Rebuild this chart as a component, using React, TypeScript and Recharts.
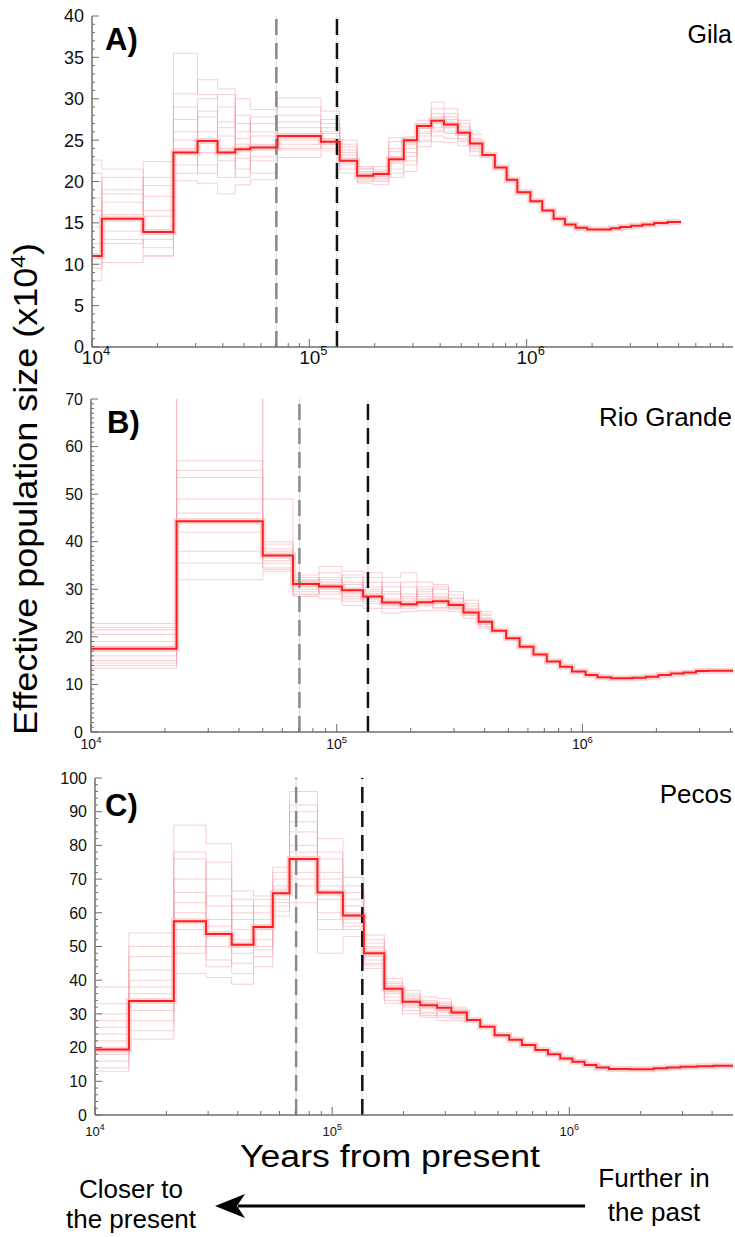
import { LineChart, Line, XAxis, YAxis, ReferenceLine } from 'recharts';

const FONT = '"Liberation Sans", Arial, Helvetica, sans-serif';
const AXIS = '#6e6e6e';
const MAIN = '#ff1e1e';
const BOOT = '#f4a0a7';

// shared
const logTicks = [
  1e4, 2e4, 3e4, 4e4, 5e4, 6e4, 7e4, 8e4, 9e4,
  1e5, 2e5, 3e5, 4e5, 5e5, 6e5, 7e5, 8e5, 9e5,
  1e6, 2e6, 3e6, 4e6, 5e6, 6e6, 7e6, 8e6, 9e6,
];
const recentSplit = 70500; // grey dashed
const olderSplit = 134000; // black dashed

// A) Gila
const gilaBreaks = [
  1e4, 1.11e4, 1.72e4, 2.37e4, 3.06e4, 3.78e4, 4.56e4, 5.35e4, 7.14e4, 1.13e5,
  1.38e5, 1.66e5, 1.97e5, 2.32e5, 2.72e5, 3.13e5, 3.64e5, 4.16e5, 4.82e5, 5.48e5,
  6.25e5, 7.14e5, 8.09e5, 9.06e5, 1.04e6, 1.18e6, 1.33e6, 1.5e6, 1.68e6, 1.9e6,
  2.44e6, 2.69e6, 3.02e6, 3.41e6, 3.86e6, 4.45e6, 5.13e6,
];
const gilaNe = [
  11, 15.5, 13.9, 23.5, 24.9, 23.5, 23.9, 24.1, 25.5, 24.8,
  22.5, 20.7, 20.9, 22.7, 25.0, 26.7, 27.35, 26.9, 25.9, 24.6,
  23.2, 21.7, 20.2, 18.7, 17.6, 16.5, 15.5, 14.8, 14.4, 14.2,
  14.35, 14.5, 14.65, 14.8, 15.0, 15.1,
];
const gilaBoot = [
  [22.6, 21.5, 18.2, 35.5, 30.5, 27.2, 30.0, 28.7, 30.1, 28.5, 25.0, 21.6, 21.2, 24.8, 25.4, 27.4, 29.6, 28.8, 27.4, 25.7],
  [8.0, 10.2, 11.0, 20.1, 19.8, 18.5, 19.6, 20.2, 22.9, 23.7, 21.0, 19.8, 19.6, 20.5, 21.2, 24.2, 24.8, 24.7, 24.3, 23.1],
  [14.5, 19.0, 22.4, 30.6, 32.3, 31.2, 26.0, 27.0, 28.0, 27.0, 23.8, 21.2, 21.8, 23.6, 25.0, 26.4, 28.2, 27.8, 26.6, 25.0],
  [18.0, 12.5, 13.0, 27.5, 22.0, 20.5, 22.8, 21.0, 24.0, 25.8, 22.0, 20.2, 20.2, 21.5, 23.0, 25.0, 26.0, 25.8, 25.2, 24.0],
  [10.0, 17.5, 15.8, 22.0, 27.8, 25.5, 25.2, 25.5, 26.5, 24.5, 24.2, 20.8, 20.6, 22.2, 24.0, 26.0, 27.0, 26.5, 25.6, 24.5],
  [20.0, 14.0, 19.5, 25.0, 21.0, 29.0, 21.5, 23.0, 23.8, 26.5, 22.8, 21.0, 21.0, 25.3, 22.5, 25.5, 27.8, 27.0, 26.0, 24.7],
  [12.5, 20.5, 11.0, 29.0, 26.0, 22.5, 28.0, 26.0, 27.2, 24.0, 23.2, 20.5, 20.0, 23.0, 24.5, 26.8, 25.5, 25.2, 24.8, 23.6],
  [16.5, 16.0, 20.5, 24.0, 28.5, 24.0, 24.5, 22.5, 25.0, 27.5, 24.5, 21.5, 21.4, 24.0, 23.5, 25.8, 26.5, 27.5, 26.2, 25.2],
  [9.5, 13.0, 12.0, 26.0, 23.5, 26.5, 27.0, 24.5, 29.0, 25.2, 21.5, 20.0, 20.4, 21.0, 22.0, 24.8, 28.8, 26.0, 25.0, 24.2],
  [21.0, 18.5, 16.5, 21.0, 30.0, 30.5, 20.5, 27.8, 24.5, 26.0, 23.5, 21.8, 20.8, 22.5, 24.8, 27.0, 26.2, 28.2, 27.0, 23.8],
];

// B) Rio Grande
const rioBreaks = [
  1e4, 2.23e4, 5.0e4, 6.64e4, 8.47e4, 1.05e5, 1.28e5, 1.53e5, 1.82e5, 2.12e5,
  2.46e5, 2.85e5, 3.28e5, 3.78e5, 4.29e5, 4.89e5, 5.55e5, 6.32e5, 7.16e5, 8.11e5,
  9.07e5, 1.03e6, 1.15e6, 1.31e6, 1.6e6, 1.81e6, 2.04e6, 2.29e6, 2.58e6, 2.9e6,
  3.23e6, 4.2e6,
];
const rioNe = [
  17.5, 44.3, 37.1, 31.1, 30.6, 29.8, 28.5, 27.2, 26.85, 27.25,
  27.5, 26.7, 25.1, 23.2, 21.3, 19.7, 17.9, 16.3, 14.8, 13.7,
  12.7, 12.0, 11.5, 11.3, 11.4, 11.6, 12.0, 12.3, 12.5, 12.8, 12.9,
];
const rioBoot = [
  [22.8, 75, 49, 33.0, 34.8, 33.8, 33.5, 32.5, 33.5, 31.5, 31.0, 29.5, 27.7, 25.3],
  [13.4, 32.0, 33.8, 28.5, 28.0, 26.6, 26.0, 25.0, 25.3, 25.5, 25.5, 25.3, 23.9, 21.8],
  [20.5, 57.0, 40.0, 32.0, 32.5, 31.5, 30.5, 29.0, 28.5, 29.5, 30.0, 28.2, 26.5, 24.5],
  [15.0, 49.0, 35.5, 29.5, 31.0, 28.0, 27.0, 26.0, 27.5, 26.5, 27.0, 26.0, 24.8, 22.6],
  [19.0, 38.0, 38.5, 30.5, 29.0, 32.5, 29.5, 28.0, 30.5, 28.5, 28.2, 27.5, 25.8, 23.8],
  [16.0, 53.5, 36.0, 31.8, 33.5, 30.0, 31.5, 27.5, 26.0, 30.5, 29.0, 27.0, 25.2, 23.0],
  [21.5, 42.0, 34.5, 29.0, 30.0, 29.0, 28.0, 30.5, 29.0, 27.5, 26.2, 25.8, 24.5, 22.2],
  [14.5, 72, 39.5, 30.0, 31.5, 27.5, 32.5, 26.5, 27.0, 28.0, 27.8, 28.8, 26.0, 24.0],
  [18.0, 46.0, 37.5, 32.5, 30.2, 31.0, 27.5, 29.5, 28.0, 29.0, 28.5, 26.5, 25.5, 23.5],
  [22.0, 35.5, 34.2, 28.8, 32.0, 28.5, 30.0, 26.8, 31.5, 27.0, 30.5, 28.0, 27.0, 24.8],
  [14.0, 55.0, 38.0, 31.5, 29.5, 33.0, 29.0, 31.5, 26.5, 30.0, 26.0, 26.8, 25.0, 22.8],
];

// C) Pecos
const pecosBreaks = [
  1e4, 1.39e4, 2.15e4, 2.94e4, 3.77e4, 4.66e4, 5.62e4, 6.61e4, 8.67e4, 1.11e5,
  1.36e5, 1.66e5, 1.98e5, 2.35e5, 2.77e5, 3.18e5, 3.7e5, 4.21e5, 4.84e5, 5.58e5,
  6.31e5, 7.19e5, 8.13e5, 9.16e5, 1.03e6, 1.16e6, 1.3e6, 1.47e6, 1.81e6, 2.27e6,
  2.58e6, 2.94e6, 3.46e6, 4.06e6, 5.0e6,
];
const pecosNe = [
  19.4, 33.8, 57.5, 53.7, 50.5, 55.8, 65.8, 76.0, 66.0, 59.2,
  48.0, 37.5, 33.6, 32.6, 31.8, 30.4, 28.2, 26.2, 23.7, 22.3,
  20.8, 19.3, 18.0, 16.8, 15.8, 14.8, 14.1, 13.65, 13.55, 13.85,
  14.1, 14.3, 14.5, 14.6,
];
const pecosBoot = [
  [38, 54, 86, 80.5, 66.5, 65, 73.5, 96, 82, 70.5, 53.4, 40.5, 37, 35, 34.5, 32],
  [13, 22.5, 42, 40.8, 38.8, 44, 59, 63, 48, 53, 43.5, 33.2, 30, 29, 28, 28],
  [28, 47, 76, 70, 60, 62, 70, 90, 76, 66, 51, 39, 35.5, 34, 33, 31],
  [16, 28, 50, 46, 45, 49, 62, 68, 58, 56, 46, 35, 32, 30.5, 29.5, 29],
  [33, 40, 66, 58, 55, 58, 67, 84, 70, 62, 49.5, 38.5, 34.5, 33, 32.5, 30.8],
  [22, 25, 78, 50, 62, 52, 64, 72, 64, 58, 45, 36, 31, 31.5, 30.5, 29.5],
  [24, 43, 55, 65, 48, 60, 68, 80, 55, 68, 50, 37, 33.5, 32, 31, 30],
  [18, 36, 63, 75, 42, 47, 60.5, 87, 72, 55, 47, 34, 36, 29.5, 33.5, 31.5],
  [30, 31, 70, 62, 52, 64, 72, 92, 60, 64, 52, 38, 34, 33.5, 31.5, 30.2],
  [14, 50, 48, 56, 64, 55, 66, 78, 78, 60, 44.5, 36.5, 32.5, 30, 29, 28.5],
  [26, 38, 60, 44, 58, 50, 63, 70, 68, 57, 48.5, 39.5, 35, 32.5, 32, 31],
];

function range(max: number, step: number) {
  const out: number[] = [];
  for (let v = 0; v <= max + 1e-9; v += step) out.push(v);
  return out;
}

function stepPoints(breaks: number[], vals: number[]) {
  const pts = vals.map((v, i) => ({ x: breaks[i], y: v }));
  pts.push({ x: breaks[vals.length], y: vals[vals.length - 1] });
  return pts;
}

const isDecade = (v: number) => Math.abs(Math.log10(v) - Math.round(Math.log10(v))) < 1e-6;

const bottomTick = (fs: number, dy: number, dx: number) => (p: any) => {
  const v = p.payload.value;
  const major = isDecade(v);
  return (
    <g>
      <line x1={p.x} x2={p.x} y1={p.y} y2={p.y - (major ? 8 : 4)} stroke={AXIS} />
      {major && (
        <text x={p.x + dx} y={p.y + dy} textAnchor="middle" fontFamily={FONT} fontSize={fs} fill="#111">
          10
          <tspan dy={-fs * 0.45} fontSize={fs * 0.68}>{Math.round(Math.log10(v))}</tspan>
        </text>
      )}
    </g>
  );
};

const topTick = (p: any) => (
  <line x1={p.x} x2={p.x} y1={p.y} y2={p.y + (isDecade(p.payload.value) ? 8 : 4)} stroke={AXIS} />
);

const leftTick = (fs: number, labelStep: number) => (p: any) => {
  const v = p.payload.value;
  const major = Math.abs(v / labelStep - Math.round(v / labelStep)) < 1e-6;
  return (
    <g>
      <line x1={p.x} x2={p.x + (major ? 7 : 3)} y1={p.y} y2={p.y} stroke={AXIS} />
      {major && (
        <text x={p.x - 8} y={p.y + fs * 0.36} textAnchor="end" fontFamily={FONT} fontSize={fs} fill="#111">
          {v}
        </text>
      )}
    </g>
  );
};

type PanelProps = {
  top: number;
  height: number;
  marginTop: number;
  axisH: number;
  yAxisW: number;
  xMax: number;
  yMax: number;
  yStep: number;
  yLabelStep: number;
  yFont: number;
  xFont: number;
  xLabelDy: number;
  xLabelDx: number;
  breaks: number[];
  ne: number[];
  boot: number[][];
};

function Panel(props: PanelProps) {
  const ticks = logTicks.filter((t) => t <= props.xMax);
  const mainPts = stepPoints(props.breaks, props.ne);
  return (
    <div style={{ position: 'absolute', left: 0, top: props.top }}>
      <LineChart
        width={735}
        height={props.height}
        margin={{ top: props.marginTop, right: 2, bottom: 0, left: 0 }}
      >
        <XAxis
          xAxisId="b"
          type="number"
          dataKey="x"
          scale="log"
          domain={[1e4, props.xMax]}
          allowDataOverflow
          ticks={ticks}
          interval={0}
          height={props.axisH}
          tickSize={0}
          tickMargin={0}
          tickLine={false}
          axisLine={{ stroke: AXIS, strokeWidth: 1.5 }}
          tick={bottomTick(props.xFont, props.xLabelDy, props.xLabelDx)}
        />
        <XAxis
          xAxisId="t"
          orientation="top"
          type="number"
          dataKey="x"
          scale="log"
          domain={[1e4, props.xMax]}
          allowDataOverflow
          ticks={ticks}
          interval={0}
          height={0}
          tickSize={0}
          tickMargin={0}
          tickLine={false}
          axisLine={{ stroke: AXIS, strokeWidth: 1.5 }}
          tick={topTick}
        />
        <YAxis
          type="number"
          domain={[0, props.yMax]}
          allowDataOverflow
          ticks={range(props.yMax, props.yStep)}
          interval={0}
          width={props.yAxisW}
          tickSize={0}
          tickMargin={0}
          tickLine={false}
          axisLine={{ stroke: AXIS, strokeWidth: 1.5 }}
          tick={leftTick(props.yFont, props.yLabelStep)}
        />
        {props.boot.map((vals, i) => (
          <Line
            key={i}
            xAxisId="b"
            data={stepPoints(props.breaks, vals)}
            dataKey="y"
            type="stepAfter"
            stroke={BOOT}
            strokeOpacity={0.5}
            strokeWidth={1}
            dot={false}
            activeDot={false}
            isAnimationActive={false}
          />
        ))}
        <Line
          xAxisId="b"
          data={mainPts}
          dataKey="y"
          type="stepAfter"
          stroke="#f7bcc0"
          strokeOpacity={0.65}
          strokeWidth={6}
          dot={false}
          activeDot={false}
          isAnimationActive={false}
        />
        <ReferenceLine xAxisId="b" x={recentSplit} stroke="#e4e4e4" strokeWidth={1.5} />
        <ReferenceLine xAxisId="b" x={olderSplit} stroke="#e4e4e4" strokeWidth={1.5} />
        <ReferenceLine xAxisId="b" x={recentSplit} stroke="#8a8a8a" strokeWidth={2.5} strokeDasharray="16 8" />
        <ReferenceLine xAxisId="b" x={olderSplit} stroke="#111" strokeWidth={2.5} strokeDasharray="16 8" />
        <Line
          xAxisId="b"
          data={mainPts}
          dataKey="y"
          type="stepAfter"
          stroke={MAIN}
          strokeWidth={2}
          dot={false}
          activeDot={false}
          isAnimationActive={false}
        />
      </LineChart>
    </div>
  );
}

export default function App() {
  return (
    <div style={{ position: 'absolute', left: 0, top: 0, width: 735, height: 1237, background: '#fff', fontFamily: FONT }}>
      <Panel
        top={0} height={385} marginTop={16} axisH={38} yAxisW={92}
        xMax={8.9e6} yMax={40} yStep={1} yLabelStep={5} yFont={18}
        xFont={19} xLabelDy={17} xLabelDx={4}
        breaks={gilaBreaks} ne={gilaNe} boot={gilaBoot}
      />
      <Panel
        top={385} height={375} marginTop={14} axisH={28} yAxisW={91}
        xMax={4.1e6} yMax={70} yStep={1} yLabelStep={10} yFont={16}
        xFont={14} xLabelDy={17} xLabelDx={0}
        breaks={rioBreaks} ne={rioNe} boot={rioBoot}
      />
      <Panel
        top={760} height={400} marginTop={18} axisH={45} yAxisW={95}
        xMax={4.9e6} yMax={100} yStep={2} yLabelStep={10} yFont={16}
        xFont={13} xLabelDy={21} xLabelDx={0}
        breaks={pecosBreaks} ne={pecosNe} boot={pecosBoot}
      />
      <svg
        width={735}
        height={1237}
        style={{ position: 'absolute', left: 0, top: 0, pointerEvents: 'none' }}
        fontFamily={FONT}
      >
        <text x={105} y={50} fontSize={31} fontWeight="bold" fill="#000">A)</text>
        <text x={107} y={433} fontSize={31} fontWeight="bold" fill="#000">B)</text>
        <text x={105} y={816} fontSize={31} fontWeight="bold" fill="#000">C)</text>
        <text x={732} y={43} fontSize={25} textAnchor="end" fill="#000">Gila</text>
        <text x={732} y={426} fontSize={26} textAnchor="end" fill="#000">Rio Grande</text>
        <text x={732} y={803} fontSize={26} textAnchor="end" fill="#000">Pecos</text>
        <text
          transform="translate(37, 489) rotate(-90)"
          textAnchor="middle"
          fontSize={33}
          fill="#000"
          textLength={492}
          lengthAdjust="spacingAndGlyphs"
        >
          Effective population size (x10<tspan dy={-12} fontSize={21}>4</tspan><tspan dy={12}>)</tspan>
        </text>
        <text x={390} y={1167} fontSize={31} textAnchor="middle" fill="#000" textLength={300} lengthAdjust="spacingAndGlyphs">
          Years from present
        </text>
        <text x={131} y={1198} fontSize={26} textAnchor="middle" fill="#000">Closer to</text>
        <text x={131} y={1228} fontSize={26} textAnchor="middle" fill="#000">the present</text>
        <text x={654} y={1187} fontSize={26} textAnchor="middle" fill="#000">Further in</text>
        <text x={654} y={1221} fontSize={26} textAnchor="middle" fill="#000">the past</text>
        <line x1={585} x2={238} y1={1206} y2={1206} stroke="#000" strokeWidth={3} />
        <polygon points="215,1206 245,1194 237,1206 245,1218" fill="#000" />
      </svg>
    </div>
  );
}
